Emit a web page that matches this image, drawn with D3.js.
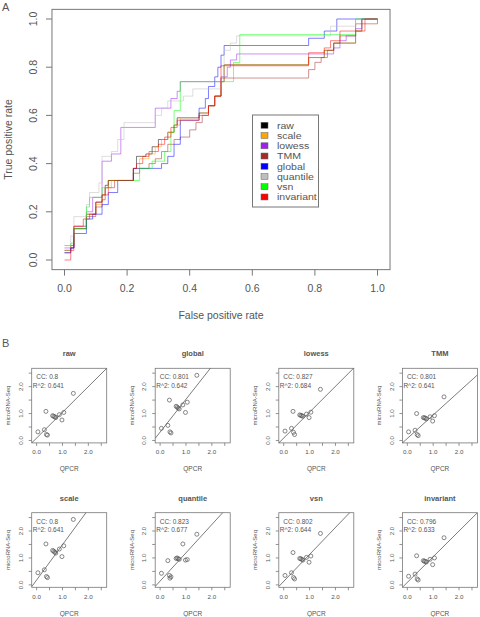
<!DOCTYPE html>
<html><head><meta charset="utf-8">
<script src="https://cdn.jsdelivr.net/npm/d3@7"></script>
<style>body{margin:0;background:#fff}svg{display:block;font-family:"Liberation Sans",Arial,sans-serif}</style>
</head><body><svg id="c" width="480" height="617"></svg>
<script>
// ---------- Panel A data (ROC step curves) ----------
const methods = ["raw","scale","lowess","TMM","global","quantile","vsn","invariant"];
const colors = ["#000000","#FFA500","#A020F0","#A52A2A","#0000FF","#BEBEBE","#00FF00","#FF0000"];
const fpr_raw = [0,0.02,0.03,0.07,0.10,0.12,0.13,0.14,0.22,0.23,0.26,0.28,0.30,0.33,0.35,0.36,0.43,0.46,0.48,0.50,0.51,0.78,0.83,0.86,0.93,0.95,1];
const tpr_raw = [0.04,0.05,0.13,0.19,0.24,0.27,0.31,0.33,0.38,0.43,0.44,0.47,0.50,0.53,0.56,0.59,0.61,0.64,0.68,0.74,0.81,0.84,0.87,0.90,0.95,1.0,1];
const fpr_scale = [0,0.02,0.03,0.07,0.10,0.12,0.13,0.15,0.22,0.24,0.27,0.29,0.31,0.33,0.35,0.37,0.43,0.46,0.48,0.50,0.51,0.78,0.83,0.86,0.93,0.95,1];
const tpr_scale = [0.04,0.06,0.14,0.19,0.23,0.27,0.30,0.33,0.38,0.42,0.44,0.47,0.50,0.53,0.56,0.59,0.61,0.64,0.68,0.74,0.81,0.84,0.87,0.90,0.95,1.0,1];
const fpr_lowess = [0,0.03,0.07,0.09,0.12,0.15,0.18,0.29,0.34,0.36,0.37,0.50,0.52,0.53,0.55,0.86,0.88,0.90,0.93,0.95,1];
const tpr_lowess = [0.05,0.14,0.20,0.26,0.41,0.44,0.55,0.63,0.67,0.70,0.74,0.76,0.80,0.83,0.855,0.88,0.91,0.93,0.96,1.0,1];
const fpr_TMM = [0,0.02,0.03,0.07,0.10,0.12,0.13,0.16,0.22,0.24,0.27,0.29,0.31,0.33,0.35,0.37,0.40,0.42,0.44,0.46,0.48,0.50,0.78,0.80,0.82,0.84,0.86,0.88,0.93,1];
const tpr_TMM = [0.03,0.06,0.13,0.18,0.22,0.25,0.30,0.33,0.36,0.38,0.40,0.42,0.45,0.48,0.50,0.51,0.54,0.57,0.60,0.64,0.68,0.755,0.79,0.82,0.84,0.87,0.90,0.93,0.98,1];
const fpr_global = [0,0.02,0.03,0.07,0.09,0.12,0.14,0.17,0.22,0.31,0.33,0.35,0.37,0.43,0.45,0.46,0.48,0.49,0.50,0.51,0.78,0.83,0.87,0.94,1];
const tpr_global = [0.03,0.05,0.11,0.17,0.19,0.23,0.28,0.33,0.38,0.40,0.43,0.48,0.58,0.63,0.67,0.72,0.76,0.80,0.85,0.89,0.92,0.95,1.0,1.0,1];
const fpr_quantile = [0,0.02,0.03,0.07,0.08,0.11,0.12,0.15,0.17,0.19,0.29,0.31,0.33,0.38,0.41,0.50,0.51,0.53,0.55,0.85,0.93,1];
const tpr_quantile = [0.06,0.10,0.18,0.23,0.28,0.32,0.43,0.45,0.50,0.57,0.60,0.63,0.66,0.68,0.71,0.76,0.87,0.90,0.93,0.97,1.0,1];
const fpr_vsn = [0,0.02,0.03,0.07,0.08,0.12,0.14,0.22,0.24,0.28,0.32,0.34,0.35,0.37,0.53,0.54,0.56,0.93,1];
const tpr_vsn = [0.06,0.07,0.13,0.22,0.26,0.30,0.33,0.33,0.38,0.41,0.45,0.53,0.62,0.74,0.74,0.82,0.935,1.0,1];
const fpr_invariant = [0,0.02,0.03,0.06,0.08,0.10,0.12,0.14,0.22,0.23,0.25,0.27,0.30,0.32,0.34,0.36,0.43,0.46,0.48,0.50,0.78,0.83,0.85,0.88,0.96,1];
const tpr_invariant = [0.0,0.04,0.14,0.17,0.19,0.24,0.27,0.33,0.38,0.40,0.43,0.45,0.48,0.51,0.55,0.58,0.60,0.64,0.68,0.806,0.86,0.88,0.91,0.95,1.0,1];
const rocFpr = [fpr_raw,fpr_scale,fpr_lowess,fpr_TMM,fpr_global,fpr_quantile,fpr_vsn,fpr_invariant];
const rocTpr = [tpr_raw,tpr_scale,tpr_lowess,tpr_TMM,tpr_global,tpr_quantile,tpr_vsn,tpr_invariant];
const rocTicks = [0,0.2,0.4,0.6,0.8,1.0];

// ---------- Panel B data (QPCR vs microRNA-Seq scatter) ----------
const panelTitles = ["raw","global","lowess","TMM","scale","quantile","vsn","invariant"];
const ccVals = ["0.8","0.801","0.827","0.801","0.8","0.823","0.802","0.796"];
const r2Vals = ["0.641","0.642","0.684","0.641","0.641","0.677","0.644","0.633"];
const qpcr = [0.05,0.30,0.36,0.38,0.42,0.62,0.66,0.70,0.74,0.88,0.98,1.05,1.42];
const seq_raw       = [0.32,0.40,1.08,0.22,0.20,0.92,0.90,0.88,0.85,0.96,0.76,1.04,1.75];
const seq_global    = [0.45,0.56,1.50,0.32,0.28,1.27,1.24,1.20,1.17,1.32,1.04,1.42,2.42];
const seq_lowess    = [0.35,0.45,1.08,0.30,0.22,0.95,0.93,0.92,0.90,0.98,0.85,1.05,1.90];
const seq_TMM       = [0.32,0.38,1.00,0.22,0.18,0.85,0.84,0.83,0.80,0.88,0.72,0.92,1.62];
const seq_scale     = [0.45,0.56,1.52,0.31,0.27,1.28,1.25,1.22,1.18,1.33,1.05,1.45,2.43];
const seq_quantile  = [0.43,0.90,0.35,0.25,0.30,0.98,1.00,0.97,0.95,1.52,0.92,0.94,1.88];
const seq_vsn       = [0.35,0.45,1.20,0.27,0.22,0.98,0.97,0.95,0.92,1.02,0.84,1.07,1.91];
const seq_invariant = [0.32,0.40,1.08,0.22,0.18,0.90,0.88,0.87,0.85,0.95,0.75,1.00,1.75];
const seqVals = [seq_raw,seq_global,seq_lowess,seq_TMM,seq_scale,seq_quantile,seq_vsn,seq_invariant];
const fitIntercept = [0.09,0.31,0.09,0.075,0.18,0.14,0.13,0.09];
const fitSlope     = [0.955,1.22,0.96,0.87,1.31,1.05,1.0,0.955];
const scatTicks = [0,0.5,1.0,1.5,2.0,2.5];
const scatLabels = ["0.0","","1.0","","2.0",""];

const svg = d3.select("#c");
const axisCol = "#777", textCol = "#555";

// ===== Panel A =====
const xA = d3.scaleLinear().domain([0,1]).range([64.5,377.5]);
const yA = d3.scaleLinear().domain([0,1]).range([260,19]);
const pad = 0.04;
const bx0 = xA(-pad), bx1 = xA(1+pad), by0 = yA(1+pad), by1 = yA(-pad);
svg.append("text").attr("x",2).attr("y",11).attr("font-size",11).attr("fill",textCol).text("A");
svg.append("rect").attr("x",bx0).attr("y",by0).attr("width",bx1-bx0).attr("height",by1-by0)
  .attr("fill","none").attr("stroke",axisCol).attr("stroke-width",1);
const gA = svg.append("g");
rocTicks.forEach(t=>{
  gA.append("line").attr("x1",xA(t)).attr("x2",xA(t)).attr("y1",by1).attr("y2",by1+6).attr("stroke",axisCol);
  gA.append("text").attr("x",xA(t)).attr("y",by1+22.5).attr("text-anchor","middle").attr("font-size",10.5).attr("fill",textCol).text(t.toFixed(1));
  gA.append("line").attr("x1",bx0).attr("x2",bx0-6).attr("y1",yA(t)).attr("y2",yA(t)).attr("stroke",axisCol);
  gA.append("text").attr("transform",`translate(${bx0-15},${yA(t)}) rotate(-90)`).attr("text-anchor","middle").attr("font-size",10.5).attr("fill",textCol).text(t.toFixed(1));
});
svg.append("text").attr("x",(xA(0)+xA(1))/2).attr("y",319).attr("text-anchor","middle").attr("font-size",10.5).attr("fill",textCol).text("False positive rate");
svg.append("text").attr("transform",`translate(12,${(yA(0)+yA(1))/2}) rotate(-90)`).attr("text-anchor","middle").attr("font-size",10.5).attr("fill",textCol).text("True positive rate");

const lineA = d3.line().x(d=>xA(d[0])).y(d=>yA(d[1])).curve(d3.curveStepAfter);
methods.forEach((m,i)=>{
  const pts = rocFpr[i].map((f,j)=>[f,rocTpr[i][j]]);
  gA.append("path").attr("d",lineA(pts)).attr("fill","none").attr("stroke",colors[i])
    .attr("stroke-opacity",0.5).attr("stroke-width",1);
});
// legend
const lg = svg.append("g");
lg.append("rect").attr("x",252.5).attr("y",115).attr("width",66).attr("height",92).attr("fill","#fff").attr("stroke",axisCol);
methods.forEach((m,i)=>{
  const yy = 125.3 + i*10.24;
  lg.append("rect").attr("x",261).attr("y",yy-3).attr("width",7).attr("height",6).attr("fill",colors[i]).attr("stroke","#666").attr("stroke-width",0.5);
  lg.append("text").attr("transform",`translate(277,${yy+3.4}) scale(1.17,1)`).attr("font-size",9).attr("fill",textCol).text(m);
});

// ===== Panel B =====
svg.append("text").attr("x",2).attr("y",347).attr("font-size",11).attr("fill",textCol).text("B");
const colLeft = [31.7,155.2,278.8,402.4];
const rowTop = [368.3,512.7];
const bw = 75, bh = 74.6;
const xdom = [-0.19,2.71], ydom = [-0.09,2.68];
panelTitles.forEach((t,i)=>{
  const L = colLeft[i%4], T = rowTop[Math.floor(i/4)];
  const xs = d3.scaleLinear().domain(xdom).range([L,L+bw]);
  const ys = d3.scaleLinear().domain(ydom).range([T+bh,T]);
  const g = svg.append("g");
  const cid = "clip"+i;
  g.append("clipPath").attr("id",cid).append("rect").attr("x",L).attr("y",T).attr("width",bw).attr("height",bh);
  g.append("text").attr("x",L+bw/2).attr("y",T-12).attr("text-anchor","middle").attr("font-size",7.5).attr("font-weight","bold").attr("fill",textCol).text(t);
  g.append("rect").attr("x",L).attr("y",T).attr("width",bw).attr("height",bh).attr("fill","none").attr("stroke",axisCol).attr("stroke-width",0.8);
  scatTicks.forEach((v,k)=>{
    g.append("line").attr("x1",xs(v)).attr("x2",xs(v)).attr("y1",T+bh).attr("y2",T+bh+3).attr("stroke",axisCol).attr("stroke-width",0.8);
    g.append("line").attr("x1",L).attr("x2",L-3).attr("y1",ys(v)).attr("y2",ys(v)).attr("stroke",axisCol).attr("stroke-width",0.8);
    if(scatLabels[k]){
      g.append("text").attr("x",xs(v)).attr("y",T+bh+11.5).attr("text-anchor","middle").attr("font-size",6.2).attr("fill",textCol).text(scatLabels[k]);
      g.append("text").attr("transform",`translate(${L-8.8},${ys(v)}) rotate(-90)`).attr("text-anchor","middle").attr("font-size",6.2).attr("fill",textCol).text(scatLabels[k]);
    }
  });
  g.append("text").attr("x",L+bw/2).attr("y",T+bh+28.5).attr("text-anchor","middle").attr("font-size",6.5).attr("fill",textCol).text("QPCR");
  g.append("text").attr("transform",`translate(${L-21.5},${T+bh/2}) rotate(-90)`).attr("text-anchor","middle").attr("font-size",6).attr("fill",textCol).text("microRNA-Seq");
  g.append("text").attr("x",L+4.5).attr("y",T+11).attr("font-size",6.5).attr("fill",textCol).text("CC: "+ccVals[i]);
  g.append("text").attr("x",L+1).attr("y",T+19.5).attr("font-size",6.5).attr("fill",textCol).text("R^2: "+r2Vals[i]);
  g.append("line").attr("clip-path",`url(#${cid})`)
    .attr("x1",xs(xdom[0])).attr("y1",ys(fitIntercept[i]+fitSlope[i]*xdom[0]))
    .attr("x2",xs(xdom[1])).attr("y2",ys(fitIntercept[i]+fitSlope[i]*xdom[1]))
    .attr("stroke","#444").attr("stroke-width",0.7);
  g.selectAll("circle.p").data(qpcr.map((q,j)=>[q,seqVals[i][j]])).join("circle")
    .attr("cx",d=>xs(d[0])).attr("cy",d=>ys(d[1])).attr("r",2).attr("fill","none").attr("stroke","#555").attr("stroke-width",0.7);
});
</script></body></html>
